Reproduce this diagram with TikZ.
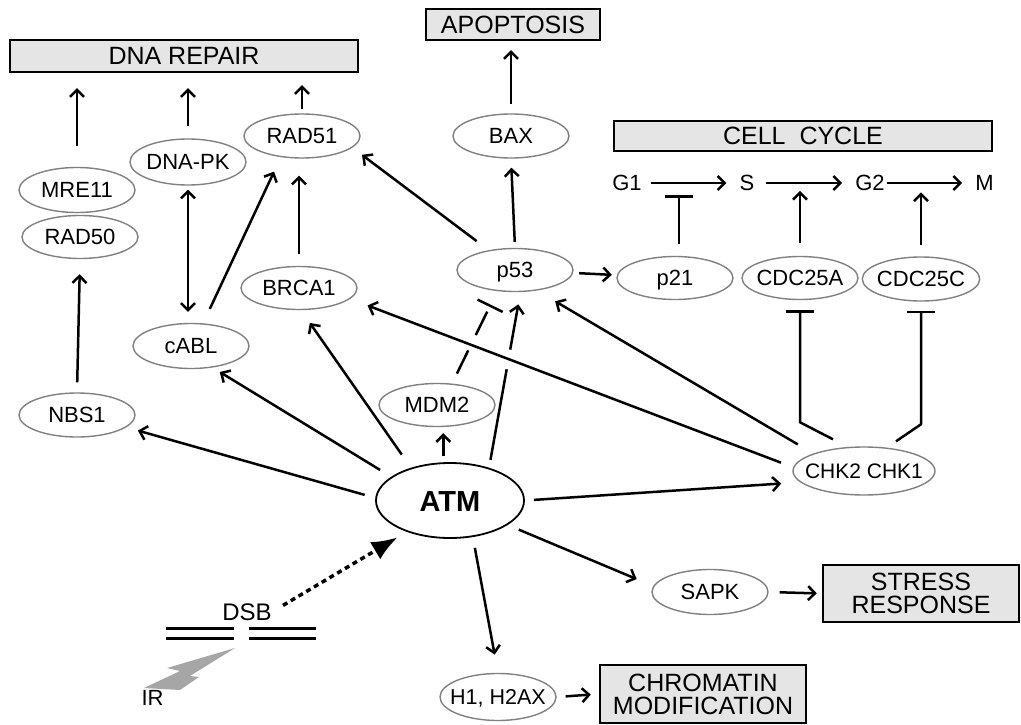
\documentclass[tikz,border=0pt]{standalone}
\usepackage{fontspec}
\setmainfont{Liberation Sans}
\usetikzlibrary{shapes.geometric,arrows.meta}

\tikzset{
  >={Straight Barb[length=7pt,width=14pt]},
  prot/.style={ellipse,draw=black!50,line width=1.4pt,inner sep=0pt,
    minimum width=116pt,minimum height=44pt,text height=15.5pt,text depth=0pt,
    font=\fontsize{22}{24}\selectfont},
  outbox/.style={draw,fill=black!10,line width=2.4pt,inner sep=0pt,align=center,
    font=\fontsize{25}{23}\selectfont},
  phase/.style={inner sep=0pt,text height=15.5pt,text depth=0pt,
    font=\fontsize{22}{24}\selectfont},
  act/.style={line width=2.5pt,->},
  inh/.style={line width=2.5pt,line join=round,-{Bar[width=28pt]}},
}

\begin{document}
\begin{tikzpicture}[x=1pt,y=-1pt]
  \useasboundingbox (0,0) rectangle (1021,725);

  \node[outbox,minimum width=348pt,minimum height=32pt] (repair) at (184,56)    {DNA REPAIR};
  \node[outbox,minimum width=174pt,minimum height=31pt] (apop)   at (513,24.5)  {APOPTOSIS};
  \node[outbox,minimum width=378pt,minimum height=30pt] (cycle)  at (803,136)   {CELL\ \ CYCLE};
  \node[outbox,minimum width=196pt,minimum height=57pt] (stress) at (921,593.5) {STRESS\\RESPONSE};
  \node[outbox,minimum width=206pt,minimum height=58pt] (chrom)  at (703,694)   {CHROMATIN\\MODIFICATION};

  \node[prot,minimum height=45pt] (mre11)  at (77,190)  {MRE11};
  \node[prot,minimum height=43pt] (rad50)  at (80,237)  {RAD50};
  \node[prot,minimum height=46pt,inner xsep=-1pt] (dnapk) at (188,162) {DNA-PK};
  \node[prot]                     (rad51)  at (302,136) {RAD51};
  \node[prot]                     (bax)    at (511,136) {BAX};
  \node[prot,minimum height=43pt] (p53)    at (515,270) {p53};
  \node[prot,minimum height=43pt] (p21)    at (675,278) {p21};
  \node[prot,minimum height=43pt,inner xsep=-2.5pt] (cdc25a) at (800,278) {CDC25A};
  \node[prot,inner xsep=-2.5pt]   (cdc25c) at (921,279) {CDC25C};
  \node[prot,minimum height=43pt] (brca1)  at (299,288) {BRCA1};
  \node[prot,minimum height=45pt] (cabl)   at (191,346) {cABL};
  \node[prot]                     (nbs1)   at (77,415)  {NBS1};
  \node[prot,minimum height=43pt] (mdm2)   at (437,405) {MDM2};
  \node[prot,draw=black,line width=1.8pt,minimum width=148pt,minimum height=75pt,
        text height=21pt,font=\fontsize{29}{32}\selectfont\bfseries] (atm) at (450,500.5) {ATM};
  \node[prot,minimum width=142pt,minimum height=48pt,inner xsep=-9.5pt,
        font=\fontsize{21}{24}\selectfont] (chk) at (864,471) {CHK2 CHK1};
  \node[prot,minimum height=45pt] (sapk)   at (710,592) {SAPK};
  \node[prot,minimum height=47pt,inner xsep=-7pt,
        font=\fontsize{21.5}{24}\selectfont] (h1) at (498,697) {H1, H2AX};

  \node[phase] (g1) at (627,183)   {G1};
  \node[phase] (s)  at (747,183)   {S};
  \node[phase] (g2) at (870,183)   {G2};
  \node[phase] (m)  at (984.5,183) {M};

  \node[phase,font=\fontsize{24}{26}\selectfont,text height=17pt] (dsb) at (247,612) {DSB};
  \node[phase,font=\fontsize{22}{24}\selectfont,text height=16pt] (ir)  at (152.5,697) {IR};

  \draw[act,shorten <=21pt,shorten >=15pt] (mre11.north) -- (mre11.north |- repair.south);
  \draw[act,shorten <=12pt,shorten >=15pt] (dnapk.north) -- (dnapk.north |- repair.south);
  \draw[act,shorten <=4pt,shorten >=12pt] (rad51.north) -- (rad51.north |- repair.south);
  \draw[act,shorten <=10pt,shorten >=15pt] (nbs1.north) -- (rad50.south);
  \draw[act,<->,shorten <=4pt,shorten >=11pt] (dnapk.south) -- (dnapk.south |- cabl.north);
  \draw[act,shorten <=16pt,shorten >=16pt] (cabl.62) -- (rad51.225);
  \draw[act,shorten <=12pt,shorten >=17pt] (brca1.north) -- (brca1.north |- rad51.south);
  \draw[act,shorten <=9pt,shorten >=9pt] (bax.north) -- (bax.north |- apop.south);
  \draw[act,shorten <=6pt,shorten >=9pt] (p53.north) -- (bax.south);
  \draw[act,shorten <=15pt,shorten >=12pt] (p53.143) -- (rad51.-13);
  \draw[act,shorten <=6pt,shorten >=5pt] (p53) -- (p21);

  \draw[act,shorten <=11pt,shorten >=12pt] (atm.178) -- (nbs1.-14);
  \draw[act,shorten <=13pt,shorten >=8.5pt] (atm.158) -- (cabl.-45);
  \draw[act,shorten <=16pt,shorten >=15.5pt] (atm.140) -- (brca1.-85);
  \draw[act,shorten <=6pt,shorten >=6pt] (atm.100) -- (atm.100 |- mdm2.south);
  \draw[inh,dash pattern=on 26pt off 17pt,shorten <=11pt,shorten >=15pt] (mdm2.55) -- (p53.230);
  \draw[act,dash pattern=on 92pt off 20pt,shorten <=8pt,shorten >=12.5pt] (atm.40) -- (p53.-76);
  \draw[act,shorten <=13pt,shorten >=18.6pt] (chk.177) -- (brca1.-12);
  \draw[act,shorten <=18pt,shorten >=21pt] (chk.161) -- (p53.-43);
  \draw[act,shorten <=9pt,shorten >=19pt] (atm.east) -- (chk.190);
  \draw[act,shorten <=12pt,shorten >=18pt] (atm.-23) -- (sapk.174);
  \draw[act,shorten <=11pt,shorten >=5pt] (sapk.east) -- (stress.west);
  \draw[act,shorten <=11pt,shorten >=18.5pt] (atm.-58) -- (h1.north);
  \draw[act,shorten <=9pt,shorten >=8pt] (h1.east) -- (chrom.west);

  \draw[act,shorten <=9.5pt,shorten >=13pt] (g1) -- (s);
  \draw[act,shorten <=11pt,shorten >=13pt] (s) -- (g2);
  \draw[act,shorten <=2pt,shorten >=13pt] (g2) -- (m);
  \draw[inh,shorten <=12pt,shorten >=4.5pt] (p21.80) -- (p21.80 |- g1.south);
  \draw[act,shorten <=13pt] (cdc25a.north) -- (cdc25a.north |- g1.south);
  \draw[act,shorten <=11.5pt,shorten >=1.5pt] (cdc25c.north) -- (cdc25c.north |- g1.south);
  \draw[inh] (chk.north) ++(-31,-7) -- ++(-33,-17) -- ([yshift=-10pt]cdc25a.south);
  \draw[inh] (chk.north) ++(32,-5) -- ++(25,-17) -- ([yshift=-9pt]cdc25c.south);

  \draw[line width=3.5pt,dash pattern=on 5pt off 4pt,
        -{Latex[length=26pt,width=20pt]},shorten <=13pt,shorten >=10.7pt] (dsb.east) -- (atm.216);

  \draw[line width=3pt] (166,628) -- (234,628) (166,638) -- (234,638);
  \draw[line width=3pt] (249,628) -- (316,628) (249,638) -- (316,638);
  \fill[black!35] (235,648) -- (167,668) -- (180,671) -- (144,688) -- (180,690)
    -- (199,677) -- (190,676) -- cycle;
\end{tikzpicture}
\end{document}
